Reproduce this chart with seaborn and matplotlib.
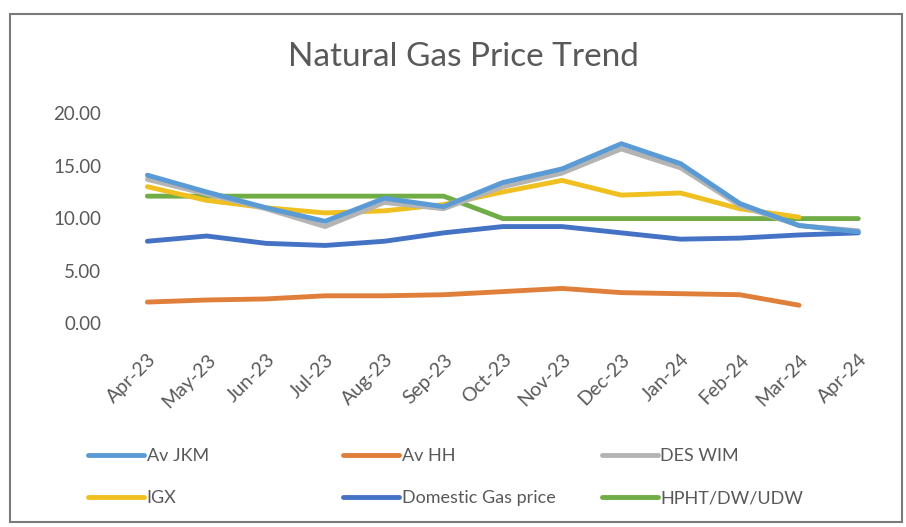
import numpy as np
import pandas as pd
import matplotlib.pyplot as plt
import seaborn as sns
from matplotlib.patches import Rectangle

# === DATA ===
months = ["Apr-23", "May-23", "Jun-23", "Jul-23", "Aug-23", "Sep-23", "Oct-23",
          "Nov-23", "Dec-23", "Jan-24", "Feb-24", "Mar-24", "Apr-24"]
av_jkm = [14.1, 12.5, 11.0, 9.7, 11.9, 11.1, 13.4, 14.7, 17.1, 15.2, 11.4, 9.3, 8.7]
av_hh = [2.0, 2.2, 2.3, 2.6, 2.6, 2.7, 3.0, 3.3, 2.9, 2.8, 2.7, 1.7, np.nan]
des_wim = [13.7, 12.3, 10.9, 9.2, 11.5, 10.9, 13.0, 14.3, 16.6, 14.8, 11.2, 9.3, 8.8]
igx = [13.0, 11.7, 11.0, 10.5, 10.7, 11.3, 12.5, 13.6, 12.2, 12.4, 10.9, 10.1, np.nan]
domestic = [7.8, 8.3, 7.6, 7.4, 7.8, 8.6, 9.2, 9.2, 8.6, 8.0, 8.1, 8.4, 8.6]
hpht = [12.1, 12.1, 12.1, 12.1, 12.1, 12.1, 9.96, 9.96, 9.96, 9.96, 9.96, 9.96, 9.96]

series = {
    "Av JKM": av_jkm,
    "Av HH": av_hh,
    "DES WIM": des_wim,
    "IGX": igx,
    "Domestic Gas price": domestic,
    "HPHT/DW/UDW": hpht,
}
colors = {
    "Av JKM": "#5b9bd5",
    "Av HH": "#e07f3a",
    "DES WIM": "#b4b4b4",
    "IGX": "#f0c020",
    "Domestic Gas price": "#4472c4",
    "HPHT/DW/UDW": "#70ad47",
}

rows = []
for name, vals in series.items():
    for i, (m, v) in enumerate(zip(months, vals)):
        rows.append({"pos": i, "month": m, "series": name, "price": v})
df = pd.DataFrame(rows)

# === PLOT ===
sns.set_theme(style="white")
plt.rcParams["font.family"] = ["Lato", "DejaVu Sans"]
TXT = "#595959"

fig = plt.figure(figsize=(9.06, 5.27), dpi=100)
ax = fig.add_axes([0.130, 0.387, 0.850, 0.398])

# draw order so that JKM sits on top of DES WIM like the original
order = ["Domestic Gas price", "Av HH", "HPHT/DW/UDW", "IGX", "DES WIM", "Av JKM"]
for name in order:
    sub = df[df["series"] == name].dropna()
    sns.lineplot(data=sub, x="pos", y="price", color=colors[name], lw=3.5,
                 ax=ax, label=name, sort=False, solid_capstyle="round")
ax.get_legend().remove()

ax.set_xlim(-0.5, len(months) - 0.5)
ax.set_ylim(0, 20)
ax.set_yticks([0, 5, 10, 15, 20])
ax.set_yticklabels([f"{v:.2f}" for v in [0, 5, 10, 15, 20]], fontsize=13.5, color=TXT)
ax.set_xticks(range(len(months)))
ax.set_xticklabels(months, rotation=45, ha="right", rotation_mode="anchor",
                   fontsize=14, color=TXT)
ax.tick_params(axis="both", length=0)
ax.tick_params(axis="y", pad=12)
ax.tick_params(axis="x", pad=20)
ax.set_xlabel("")
ax.set_ylabel("")
for s in ax.spines.values():
    s.set_visible(False)

fig.text(0.511, 0.892, "Natural Gas Price Trend", ha="center", va="center",
         fontsize=24, color=TXT)

# legend in 3 evenly spaced columns, 2 rows
handles = {h.get_label(): h for h in ax.get_lines()}
cols = [["Av JKM", "IGX"], ["Av HH", "Domestic Gas price"], ["DES WIM", "HPHT/DW/UDW"]]
xs = [0.097, 0.379, 0.664]
for x0, names in zip(xs, cols):
    fig.legend([handles[n] for n in names], names, loc="upper left",
               bbox_to_anchor=(x0, 0.150), frameon=False, fontsize=13,
               handlelength=3.1, handletextpad=0.15, labelspacing=1.45,
               labelcolor=TXT, borderaxespad=0, borderpad=0)

fig.patches.append(Rectangle((0.011, 0.010), 0.985, 0.963, transform=fig.transFigure,
                             fill=False, edgecolor="#7a7a7a", lw=1.5))

fig.savefig("out.png", dpi=100)
